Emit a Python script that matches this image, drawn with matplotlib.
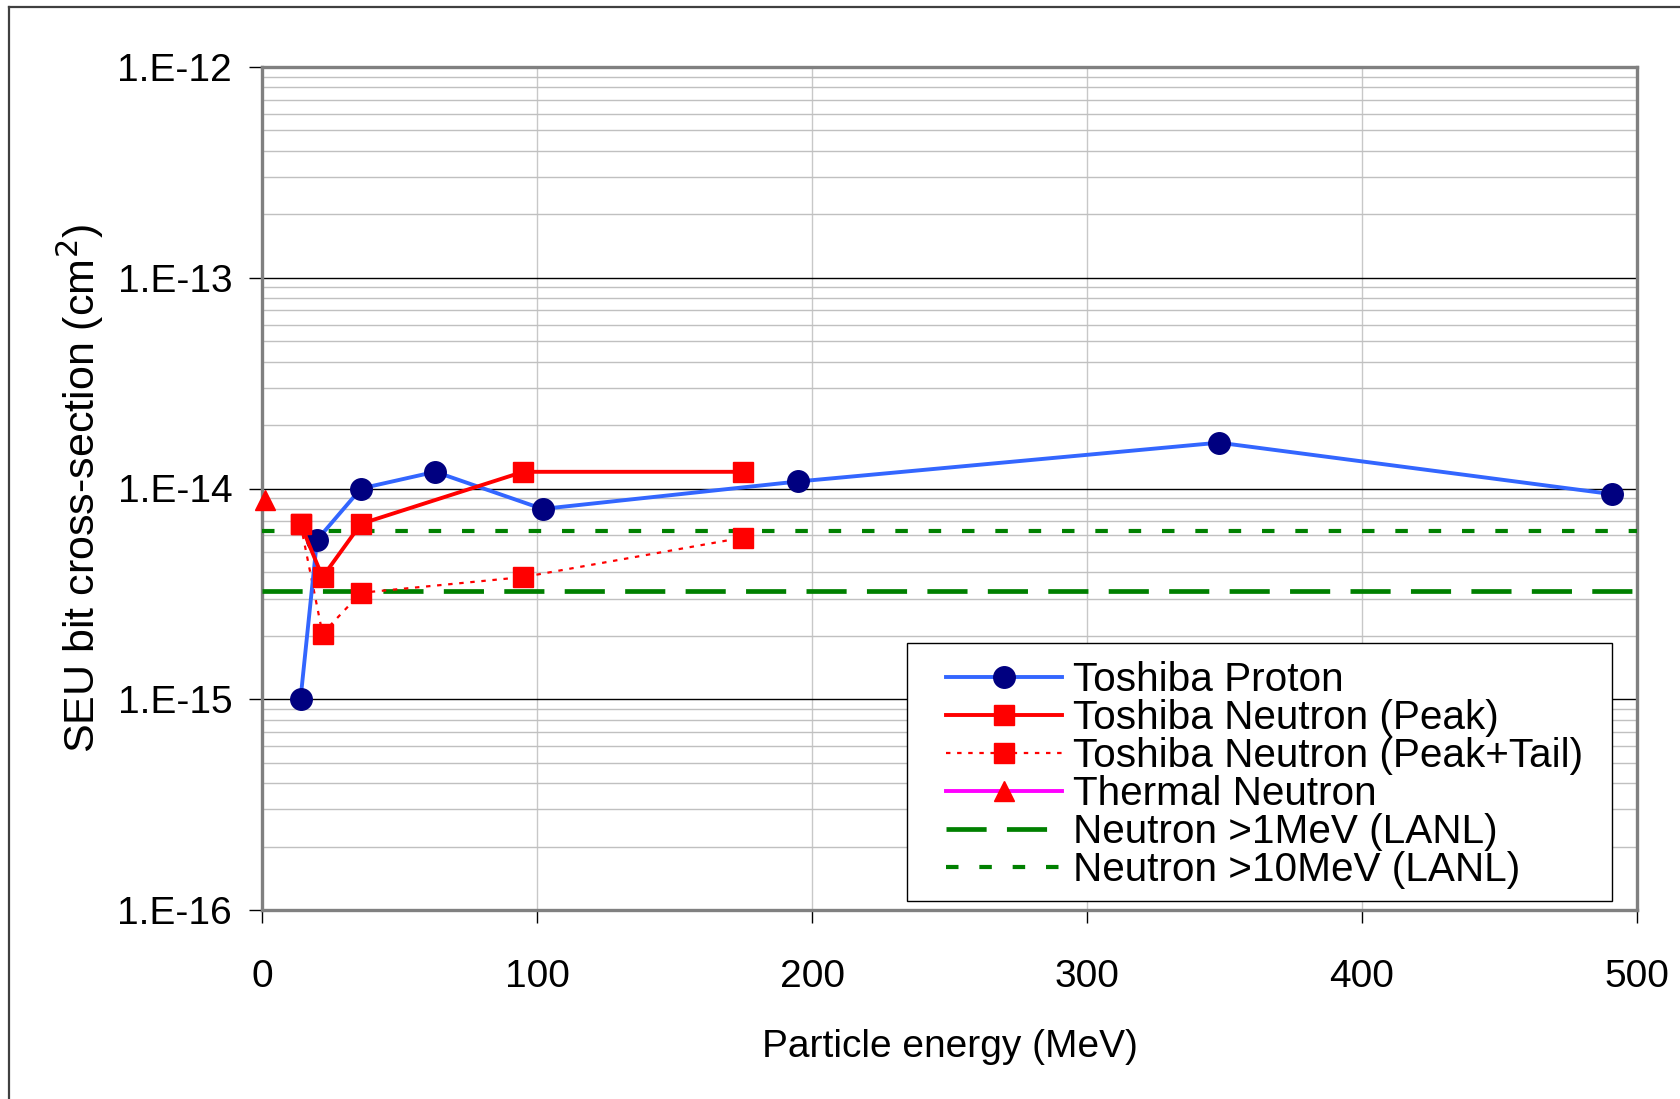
import numpy as np
import matplotlib
matplotlib.use("Agg")
import matplotlib.pyplot as plt
from matplotlib.ticker import FixedLocator, FuncFormatter, LogLocator, NullFormatter
from matplotlib.lines import Line2D
from matplotlib.patches import Rectangle

# cross-section data (MeV, cm^2)
proton_e = [14, 20, 36, 63, 102, 195, 348, 491]
proton_xs = [1.0e-15, 5.7e-15, 1.0e-14, 1.2e-14, 8.0e-15, 1.08e-14, 1.65e-14, 9.4e-15]

peak_e = [14, 22, 36, 95, 175]
peak_xs = [6.8e-15, 3.8e-15, 6.8e-15, 1.2e-14, 1.2e-14]

tail_e = [14, 22, 36, 95, 175]
tail_xs = [6.8e-15, 2.05e-15, 3.2e-15, 3.8e-15, 5.85e-15]

thermal_e = [1]
thermal_xs = [8.8e-15]

lanl_1mev = 3.28e-15
lanl_10mev = 6.3e-15

x_ticks = [0, 100, 200, 300, 400, 500]
y_decades = [1e-16, 1e-15, 1e-14, 1e-13, 1e-12]

plt.rcParams["font.family"] = ["Liberation Sans", "DejaVu Sans"]
FS = 28

fig = plt.figure(figsize=(16.8, 10.99), dpi=100)
ax = fig.add_axes([262 / 1680, 1 - 910 / 1099, 1375 / 1680, 843 / 1099])

# outer chart border (left and top edges)
fig.add_artist(Line2D([9 / 1680, 9 / 1680], [0, 1 - 7 / 1099], transform=fig.transFigure,
                      color="#404040", lw=1.6))
fig.add_artist(Line2D([9 / 1680, 1], [1 - 7 / 1099, 1 - 7 / 1099], transform=fig.transFigure,
                      color="#404040", lw=1.6))

ax.set_yscale("log")
ax.set_xlim(0, 500)
ax.set_ylim(1e-16, 1e-12)

ax.plot(proton_e, proton_xs, color="#3366ff", lw=2.8, marker="o", ms=15.5,
        mfc="#000080", mec="#000080", label="Toshiba Proton", zorder=5)
ax.plot(peak_e, peak_xs, color="#ff0000", lw=2.8, marker="s", ms=14,
        mfc="#ff0000", mec="#ff0000", label="Toshiba Neutron (Peak)", zorder=5)
ax.plot(tail_e, tail_xs, color="#ff0000", lw=1.6, ls=(0, (2, 3)), marker="s", ms=14,
        mfc="#ff0000", mec="#ff0000", label="Toshiba Neutron (Peak+Tail)", zorder=4)
ax.plot(thermal_e, thermal_xs, color="#ff00ff", lw=2.8, marker="^", ms=15,
        mfc="#ff0000", mec="#ff0000", label="Thermal Neutron", zorder=6, clip_on=False)
ax.axhline(lanl_1mev, color="#008000", lw=3.4, ls=(0, (8.5, 4.3)),
           label="Neutron >1MeV (LANL)", zorder=3)
ax.axhline(lanl_10mev, color="#008000", lw=3.0, ls=(0, (3.0, 5.0)),
           label="Neutron >10MeV (LANL)", zorder=3)

# gridlines: black at decades, grey in between
ax.yaxis.set_major_locator(FixedLocator(y_decades))
ax.yaxis.set_minor_locator(LogLocator(base=10, subs=np.arange(2, 10), numticks=20))
ax.yaxis.set_minor_formatter(NullFormatter())
ax.yaxis.set_major_formatter(FuncFormatter(lambda v, p: "1.E%d" % round(np.log10(v))))
ax.xaxis.set_major_locator(FixedLocator(x_ticks))
ax.grid(True, which="major", axis="y", color="black", lw=1.0, zorder=1)
ax.grid(True, which="minor", axis="y", color="#c0c0c0", lw=1.0, zorder=0)
ax.grid(True, which="major", axis="x", color="#c8c8c8", lw=1.0, zorder=0)
ax.set_axisbelow(True)

ax.tick_params(axis="y", which="major", direction="out", length=9.5, width=1,
               color="black", labelsize=FS, pad=12)
ax.tick_params(axis="y", which="minor", length=0)
ax.tick_params(axis="x", which="major", direction="out", length=9.5, width=1,
               color="black", labelsize=FS, pad=26)

for sp in ax.spines.values():
    sp.set_color("#808080")
    sp.set_linewidth(2.4)

ax.set_xlabel("Particle energy (MeV)", fontsize=FS, labelpad=24)
ax.set_ylabel("SEU bit cross-section (cm$^2$)", fontsize=31, labelpad=8)

# legend box drawn separately so its padding can be wider than tall
ax.add_patch(Rectangle((0.469, 0.0107), 0.9818 - 0.469, 0.3167 - 0.0107,
                       transform=ax.transAxes, facecolor="white", edgecolor="black",
                       lw=1.0, zorder=7))
leg = ax.legend(loc="upper left", bbox_to_anchor=(0.4975, 0.2955), fontsize=29.2,
                frameon=False, handlelength=2.85, handletextpad=0.27, labelspacing=0.0,
                borderpad=0, borderaxespad=0)
leg.set_zorder(8)

fig.savefig("out.png", dpi=100)
